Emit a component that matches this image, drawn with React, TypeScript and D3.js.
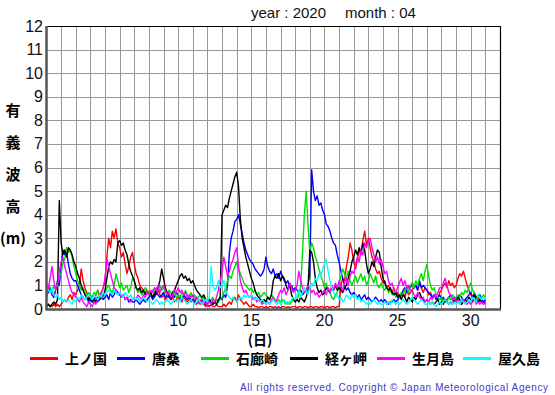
import { useRef, useEffect } from 'react';
import * as d3 from 'd3';

// 有義波高 2020年4月 (3時間ごとの値, 1日 00時 から 31日 00時まで)
const stepsPerDay = 8;

const kaminokuni = [
  0.1, 0.2, 0.1, 0.1, 0.2, 0.1, 0.2, 0.1,
  0.2, 0.3, 0.4, 0.3, 0.5, 0.6, 0.4, 0.7,
  0.6, 0.8, 1.0, 1.7, 1.2, 0.9, 0.7, 0.5,
  0.4, 0.5, 0.3, 0.6, 0.8, 0.5, 0.7, 0.9,
  1.2, 2.2, 3.0, 2.6, 3.3, 3.0, 3.4, 2.8,
  2.6, 2.2, 2.4, 1.9, 1.5, 1.8, 2.2, 2.4,
  1.9, 1.5, 1.3, 1.0, 0.9, 0.8, 0.7, 0.8,
  0.7, 0.6, 0.5, 0.7, 0.6, 0.8, 0.6, 0.5,
  0.6, 0.4, 0.5, 0.6, 0.4, 0.5, 0.3, 0.4,
  0.5, 0.4, 0.3, 0.5, 0.4, 0.3, 0.4, 0.3,
  0.4, 0.3, 0.2, 0.3, 0.2, 0.3, 0.2, 0.1,
  0.2, 0.1, 0.2, 0.1, 0.1, 0.2, 0.1, 0.1,
  0.1, 0.2, 0.1, 0.2, 0.3, 0.2, 0.4, 0.5,
  0.3, 0.6, 0.4, 0.3, 0.2, 0.3, 0.2, 0.1,
  0.1, 0.2, 0.1, 0.1, 0.05, 0.1, 0.1, 0.05,
  0.1, 0.05, 0.1, 0.1, 0.05, 0.1, 0.05, 0.1,
  0.05, 0.1, 0.1, 0.05, 0.1, 0.05, 0.1, 0.1,
  0.1, 0.05, 0.1, 0.1, 0.05, 0.1, 0.1, 0.05,
  0.1, 0.1, 0.05, 0.1, 0.1, 0.05, 0.1, 0.1,
  0.05, 0.1, 0.1, 0.05, 0.1, 0.1, 0.05, 0.1,
  0.1, 1.0, 1.3, 1.2, 1.8, 2.2, 2.8, 2.5,
  2.0, 1.7, 2.1, 2.5, 2.3, 2.9, 3.3, 2.7,
  3.0, 2.6, 2.2, 2.0, 1.7, 1.5, 1.6, 1.3,
  1.1, 1.2, 0.9, 1.0, 0.8, 0.7, 0.9, 0.6,
  0.7, 0.5, 0.6, 0.7, 0.5, 0.8, 0.6, 0.7,
  0.8, 0.9, 1.0, 0.8, 1.1, 0.9, 0.7, 0.9,
  0.8, 0.6, 0.7, 0.5, 0.6, 0.5, 0.4, 0.7,
  0.8, 1.0, 1.1, 0.9, 1.2, 1.0, 1.1, 0.9,
  1.0, 1.3, 1.5, 1.4, 1.6, 1.3, 1.0, 0.8,
  0.6, 0.5, 0.7, 0.4, 0.5, 0.3, 0.4, 0.3,
  0.3,
];

const karakuwa = [
  0.6, 0.7, 0.9, 0.6, 0.5, 0.8, 1.2, 1.0,
  1.8, 2.5, 2.3, 2.4, 1.9, 1.5, 1.3, 1.2,
  1.2, 1.0, 0.8, 0.6, 0.5, 0.4, 0.5, 0.3,
  0.4, 0.3, 0.4, 0.5, 0.3, 0.4, 0.5, 0.4,
  0.5, 0.6, 0.4, 0.7, 0.5, 0.6, 0.8, 0.7,
  0.6, 0.5, 0.6, 0.4, 0.5, 0.3, 0.4, 0.3,
  0.3, 0.4, 0.3, 0.2, 0.3, 0.4, 0.3, 0.4,
  0.5, 0.6, 0.4, 0.5, 0.7, 0.6, 0.5, 0.6,
  0.7, 0.5, 0.6, 0.5, 0.4, 0.6, 0.5, 0.7,
  0.6, 0.5, 0.4, 0.6, 0.5, 0.4, 0.5, 0.4,
  0.4, 0.3, 0.5, 0.4, 0.3, 0.4, 0.3, 0.2,
  0.3, 0.4, 0.3, 0.2, 0.3, 0.4, 0.3, 0.5,
  0.4, 0.6, 0.5, 1.0, 2.4, 3.0, 3.3, 3.7,
  3.8, 4.0, 3.6, 3.2, 2.8, 2.5, 2.3, 2.1,
  2.0, 1.9, 1.7, 1.6, 1.5, 1.4, 1.5, 1.7,
  2.2, 1.8, 1.6, 1.5, 1.7, 1.4, 1.5, 1.3,
  1.6, 1.4, 1.2, 1.1, 1.2, 0.9, 1.0, 0.8,
  0.9, 0.8, 0.7, 0.8, 0.6, 0.7, 0.8, 1.0,
  1.5, 5.9, 5.0, 4.6, 4.8, 4.4, 4.5, 4.2,
  4.0, 3.6, 3.5, 3.3, 3.0, 2.8, 2.7, 2.3,
  2.0, 1.6, 1.3, 1.0, 0.8, 0.9, 0.7, 0.6,
  0.7, 0.6, 0.5, 0.6, 0.4, 0.5, 0.6, 0.4,
  0.5, 0.4, 0.3, 0.4, 0.5, 0.4, 0.3, 0.4,
  0.3, 0.4, 0.3, 0.2, 0.3, 0.3, 0.4, 0.3,
  0.4, 0.5, 0.6, 0.8, 0.9, 0.7, 1.0, 0.9,
  1.1, 0.9, 1.0, 0.8, 1.2, 0.9, 1.0, 0.9,
  0.8, 0.7, 0.6, 0.5, 0.6, 0.4, 0.5, 0.6,
  0.4, 0.5, 0.3, 0.4, 0.5, 0.6, 0.4, 0.3,
  0.5, 0.4, 0.6, 0.5, 0.3, 0.4, 0.5, 0.6,
  0.7, 0.5, 0.6, 0.4, 0.5, 0.6, 0.4, 0.3,
  0.4,
];

const irouzaki = [
  0.8, 1.0, 0.9, 0.7, 1.0, 0.8, 1.1, 1.4,
  1.5, 2.0, 2.1, 2.6, 2.4, 2.5, 2.2, 1.8,
  1.5, 1.2, 1.0, 0.8, 0.9, 0.7, 0.6, 0.7,
  0.6, 0.5, 0.7, 0.6, 0.8, 0.6, 0.7, 0.5,
  0.7, 0.9, 1.0, 0.8, 0.7, 1.0, 1.5, 1.2,
  0.9, 1.1, 0.8, 0.9, 1.0, 0.7, 0.9, 1.3,
  1.2, 0.9, 0.7, 0.8, 0.6, 0.7, 0.9, 0.8,
  0.7, 0.6, 0.8, 0.7, 0.9, 0.8, 1.0, 0.8,
  0.9, 0.7, 0.6, 0.8, 0.7, 0.6, 0.7, 0.5,
  0.6, 0.5, 0.7, 0.6, 0.8, 0.6, 0.5, 0.7,
  0.5, 0.6, 0.4, 0.5, 0.6, 0.4, 0.5, 0.3,
  0.4, 0.3, 0.4, 0.5, 0.3, 0.4, 0.3, 0.4,
  0.5, 0.7, 0.9, 1.2, 1.4, 1.3, 1.6, 1.8,
  2.0, 1.7, 1.5, 1.3, 1.1, 1.0, 0.9, 0.8,
  0.9, 0.7, 0.8, 0.6, 0.7, 0.5, 0.6, 0.7,
  0.6, 0.5, 0.4, 0.6, 0.5, 0.4, 0.3, 0.4,
  0.3, 0.4, 0.3, 0.2, 0.3, 0.2, 0.3, 0.4,
  0.3, 0.4, 0.6, 1.0, 2.4, 4.0, 5.0, 3.6,
  2.4, 2.8, 2.6, 2.2, 2.0, 1.7, 1.4, 1.2,
  0.9, 1.1, 0.8, 0.7, 0.5, 0.4, 0.6, 0.7,
  1.0, 1.4, 1.7, 1.5, 1.3, 1.6, 1.2, 1.0,
  1.2, 1.4, 1.1, 1.3, 1.5, 1.2, 1.4, 1.0,
  1.2, 1.5, 1.3, 1.1, 1.4, 1.0, 0.9, 1.1,
  0.9, 0.8, 1.0, 0.7, 0.8, 0.6, 0.7, 0.5,
  0.6, 0.5, 0.7, 0.6, 0.8, 0.9, 0.7, 1.0,
  1.1, 0.9, 1.2, 1.0, 1.3, 1.5, 1.2, 1.6,
  1.9, 1.4, 1.0, 0.8, 0.9, 0.6, 0.5, 0.4,
  0.5, 0.3, 0.4, 0.3, 0.5, 0.4, 0.6, 0.5,
  0.4, 0.6, 0.5, 0.7, 0.6, 0.8, 0.7, 0.9,
  1.1, 0.8, 0.7, 0.5, 0.6, 0.4, 0.5, 0.6,
  0.5,
];

const kyougamisaki = [
  0.1, 0.2, 0.1, 0.2, 0.3, 0.2, 0.4, 4.6,
  2.8, 2.3, 2.5, 2.2, 2.6, 2.5, 2.3, 2.0,
  1.8, 1.5, 1.3, 1.0, 0.8, 0.6, 0.5, 0.4,
  0.5, 0.3, 0.4, 0.3, 0.5, 0.4, 0.5, 0.6,
  0.8, 1.3, 1.8, 2.0, 1.9, 2.1, 2.0, 2.8,
  2.9, 2.7, 2.8, 2.5, 2.3, 1.9, 1.6, 1.4,
  1.2, 0.9, 0.8, 0.9, 0.7, 0.8, 0.6, 0.7,
  0.6, 0.7, 0.5, 0.6, 0.8, 0.9, 1.2, 1.7,
  1.3, 0.9, 0.7, 0.6, 0.5, 0.7, 0.8, 1.0,
  1.2, 1.4, 1.5, 1.3, 1.4, 1.2, 1.3, 1.1,
  1.2, 1.0, 0.8, 0.7, 0.6, 0.5, 0.6, 0.4,
  0.3, 0.4, 0.3, 0.2, 0.3, 0.2, 0.4, 0.5,
  4.0, 4.2, 4.4, 4.3, 4.7, 5.0, 5.3, 5.6,
  5.8, 5.2, 3.8, 3.0, 2.6, 2.2, 1.9, 1.6,
  1.3, 1.1, 0.8, 0.6, 0.5, 0.4, 0.3, 0.4,
  0.3, 0.5, 0.4, 0.6, 1.2, 1.4, 1.3, 1.5,
  1.2, 1.4, 1.3, 1.0, 0.8, 1.1, 0.6, 0.4,
  0.3, 0.4, 0.3, 0.5, 0.4, 0.3, 0.5, 0.8,
  2.5, 2.4, 2.0, 1.3, 0.9, 0.7, 0.8, 0.6,
  0.7, 0.9, 0.8, 0.7, 0.9, 0.8, 1.0, 0.8,
  0.9, 0.8, 0.7, 0.9, 1.0, 1.3, 1.6, 2.0,
  2.2, 2.5, 2.3, 2.6, 2.4, 2.8, 2.5, 1.9,
  1.5, 1.7, 2.0, 1.8, 2.2, 2.5, 2.4, 1.8,
  1.3, 1.1, 0.9, 0.8, 0.9, 0.7, 0.6, 0.7,
  0.5, 0.6, 0.4, 0.6, 0.5, 0.3, 0.5, 0.4,
  0.3, 0.5, 0.4, 0.6, 0.7, 0.5, 0.4, 0.3,
  0.4, 0.3, 0.2, 0.3, 0.2, 0.3, 0.4, 0.2,
  0.3, 0.2, 0.4, 0.3, 0.2, 0.3, 0.2, 0.4,
  0.3, 0.5, 0.4, 0.2, 0.3, 0.4, 0.3, 0.5,
  0.4, 0.3, 0.6, 0.5, 0.3, 0.4, 0.3, 0.2,
  0.3,
];

const ikitsukishima = [
  0.5, 0.9, 1.3, 1.8, 1.2, 0.8, 1.0, 1.6,
  2.0, 2.2, 1.8, 1.5, 1.2, 0.9, 0.7, 0.6,
  0.5, 0.4, 0.3, 0.5, 0.3, 0.2, 0.1, 0.3,
  0.2, 0.1, 0.3, 0.2, 0.4, 0.5, 0.7, 0.9,
  1.3, 2.1, 1.8, 1.5, 1.2, 0.9, 0.8, 0.6,
  0.7, 0.5, 0.6, 0.4, 0.5, 0.4, 0.3, 0.4,
  0.5, 0.4, 0.6, 0.5, 0.4, 0.6, 0.5, 0.7,
  0.6, 0.8, 0.7, 0.9, 0.8, 1.0, 0.7, 0.9,
  1.0, 0.8, 0.6, 0.7, 0.5, 0.6, 0.8, 0.7,
  0.9, 0.7, 0.8, 0.6, 0.7, 0.5, 0.6, 0.5,
  0.6, 0.4, 0.5, 0.3, 0.4, 0.3, 0.2, 0.3,
  0.2, 0.3, 0.2, 0.4, 0.3, 0.5, 0.8, 1.2,
  1.6, 2.2, 1.8, 1.4, 1.6, 1.9, 2.1, 2.4,
  2.6, 1.8, 1.2, 0.9, 0.7, 0.8, 0.6, 0.5,
  0.6, 0.4, 0.5, 0.3, 0.4, 0.3, 0.2, 0.3,
  0.2, 0.3, 0.2, 0.4, 0.5, 0.3, 0.4, 0.6,
  0.8, 0.7, 0.9, 0.6, 0.8, 1.1, 0.9, 0.7,
  0.8, 1.0, 1.6, 1.2, 0.9, 0.7, 0.8, 1.0,
  0.9, 0.7, 0.8, 0.6, 0.7, 0.5, 0.6, 0.7,
  0.8, 0.6, 0.9, 0.7, 1.0, 0.8, 1.1, 0.9,
  1.2, 1.0, 0.8, 1.1, 1.3, 1.0, 1.4, 1.6,
  1.5, 1.9, 2.2, 2.0, 2.5, 2.3, 2.8, 2.6,
  2.9, 3.0, 2.6, 2.3, 2.0, 2.2, 1.9, 2.1,
  1.8, 1.5, 1.6, 1.2, 1.0, 1.1, 0.8, 0.7,
  0.9, 1.1, 1.3, 1.0, 1.2, 0.9, 1.0, 0.8,
  0.8, 0.6, 0.5, 0.7, 0.5, 0.4, 0.5, 0.3,
  0.4, 0.3, 0.5, 0.4, 0.6, 0.5, 0.7, 0.9,
  0.9, 1.1, 1.3, 1.0, 0.7, 0.6, 0.4, 0.5,
  0.3, 0.4, 0.2, 0.3, 0.4, 0.3, 0.2, 0.3,
  0.2, 0.3, 0.4, 0.2, 0.3, 0.2, 0.3, 0.2,
  0.3,
];

const yakushima = [
  0.9, 0.8, 0.7, 0.9, 0.6, 0.5, 0.6, 0.4,
  0.5, 0.3, 0.4, 0.3, 0.4, 0.3, 0.2, 0.4,
  0.3, 0.5, 0.4, 0.6, 0.5, 0.4, 0.5, 0.6,
  0.5, 0.4, 0.6, 0.5, 0.4, 0.6, 0.5, 0.7,
  0.6, 0.7, 0.8, 0.7, 0.6, 0.8, 0.7, 0.6,
  0.7, 0.6, 0.5, 0.7, 0.6, 0.5, 0.6, 0.4,
  0.5, 0.4, 0.5, 0.3, 0.4, 0.5, 0.4, 0.3,
  0.4, 0.3, 0.2, 0.3, 0.4, 0.3, 0.2, 0.3,
  0.2, 0.3, 0.4, 0.3, 0.2, 0.3, 0.4, 0.3,
  0.4, 0.3, 0.5, 0.4, 0.3, 0.2, 0.3, 0.4,
  0.3, 0.2, 0.3, 0.4, 0.3, 0.2, 0.3, 0.4,
  0.3, 0.5, 1.8, 1.0, 0.8, 0.9, 1.2, 0.9,
  1.0, 1.2, 0.8, 0.6, 0.5, 0.4, 0.5, 0.4,
  0.3, 0.4, 0.5, 0.4, 0.6, 0.5, 0.6, 0.5,
  0.6, 0.5, 0.4, 0.5, 0.4, 0.3, 0.4, 0.3,
  0.2, 0.3, 0.2, 0.3, 0.4, 0.3, 0.2, 0.3,
  0.2, 0.3, 0.4, 0.3, 0.2, 0.3, 0.4, 0.5,
  0.4, 0.6, 0.8, 0.5, 0.7, 0.9, 0.8, 0.6,
  0.9, 1.1, 1.0, 1.3, 1.2, 1.5, 1.4, 1.7,
  1.9, 2.1, 1.6, 1.2, 0.9, 0.7, 0.5, 0.6,
  0.4, 0.5, 0.3, 0.4, 0.6, 0.5, 0.4, 0.6,
  0.5, 0.6, 0.4, 0.5, 0.3, 0.4, 0.3, 0.2,
  0.3, 0.2, 0.3, 0.4, 0.3, 0.2, 0.3, 0.2,
  0.2, 0.3, 0.2, 0.3, 0.2, 0.4, 0.3, 0.2,
  0.3, 0.2, 0.3, 0.4, 0.3, 0.2, 0.3, 0.4,
  0.5, 0.4, 0.3, 0.2, 0.3, 0.4, 0.3, 0.2,
  0.2, 0.3, 0.2, 0.3, 0.2, 0.1, 0.2, 0.3,
  0.2, 0.3, 0.4, 0.3, 0.2, 0.3, 0.2, 0.3,
  0.2, 0.3, 0.2, 0.4, 0.3, 0.2, 0.3, 0.4,
  0.3, 0.5, 0.4, 0.3, 0.6, 0.5, 0.4, 0.5,
  0.4,
];

const stationNames = ['上ノ国', '唐桑', '石廊崎', '経ヶ岬', '生月島', '屋久島'];
const stationColors = ['#ff0000', '#0000ff', '#00dd00', '#000000', '#ff00ff', '#00ffff'];
const stationValues = [kaminokuni, karakuwa, irouzaki, kyougamisaki, ikitsukishima, yakushima];

const yTicks = [0, 1, 2, 3, 4, 5, 6, 7, 8, 9, 10, 11, 12];
const xTickLabels = [5, 10, 15, 20, 25, 30];
const yLabelChars = ['有', '義', '波', '高', '(m)'];

const W = 555;
const H = 395;
const plot = { left: 46.5, right: 500, top: 26, bottom: 309 };
const sansFont = '"Liberation Sans", Arial, sans-serif';
const jpFont = '"Noto Sans CJK JP", sans-serif';

const App = () => {
  const svgRef = useRef(null);

  useEffect(() => {
    const svg = d3.select(svgRef.current);
    svg.selectAll('*').remove();

    // 目盛り
    const x = d3.scaleLinear().domain([1, 32]).range([plot.left, plot.right]);
    const y = d3.scaleLinear().domain([0, 12]).range([plot.bottom, plot.top]);

    svg.append('rect').attr('width', W).attr('height', H).attr('fill', '#fff');

    // 格子
    const grid = svg.append('g');
    grid.selectAll('.vg')
      .data(d3.range(2, 32))
      .join('line')
      .attr('x1', (d) => Math.round(x(d)) + 0.5)
      .attr('x2', (d) => Math.round(x(d)) + 0.5)
      .attr('y1', plot.top)
      .attr('y2', plot.bottom)
      .attr('stroke', '#999')
      .attr('stroke-width', 1);
    grid.selectAll('.hg')
      .data(yTicks.slice(1, -1))
      .join('line')
      .attr('x1', plot.left)
      .attr('x2', plot.right)
      .attr('y1', (d) => Math.round(y(d)) + 0.5)
      .attr('y2', (d) => Math.round(y(d)) + 0.5)
      .attr('stroke', '#999')
      .attr('stroke-width', 1);

    // 波高の線
    const line = d3.line()
      .x((d, i) => x(1 + i / stepsPerDay))
      .y((d) => y(d));

    stationValues.forEach((vals, k) => {
      svg.append('path')
        .datum(vals)
        .attr('d', line)
        .attr('fill', 'none')
        .attr('stroke', stationColors[k])
        .attr('stroke-width', 1.4)
        .attr('stroke-linejoin', 'round');
    });

    // 枠
    svg.append('line')
      .attr('x1', plot.left).attr('x2', plot.right + 0.5)
      .attr('y1', plot.top + 0.5).attr('y2', plot.top + 0.5)
      .attr('stroke', '#000').attr('stroke-width', 1.2);
    svg.append('line')
      .attr('x1', plot.right + 0.5).attr('x2', plot.right + 0.5)
      .attr('y1', plot.top).attr('y2', plot.bottom)
      .attr('stroke', '#000').attr('stroke-width', 1.2);
    svg.append('line')
      .attr('x1', plot.left).attr('x2', plot.left)
      .attr('y1', plot.top).attr('y2', plot.bottom + 1)
      .attr('stroke', '#555').attr('stroke-width', 2.5);
    svg.append('line')
      .attr('x1', plot.left - 1).attr('x2', plot.right + 1)
      .attr('y1', plot.bottom + 0.5).attr('y2', plot.bottom + 0.5)
      .attr('stroke', '#555').attr('stroke-width', 2.5);

    // 縦軸ラベル
    svg.append('g')
      .selectAll('text')
      .data(yTicks)
      .join('text')
      .attr('x', 43)
      .attr('y', (d) => y(d) + 5.5)
      .attr('text-anchor', 'end')
      .style('font-family', sansFont)
      .style('font-size', '16px')
      .attr('fill', '#111')
      .text((d) => d);

    // 横軸ラベル
    svg.append('g')
      .selectAll('text')
      .data(xTickLabels)
      .join('text')
      .attr('x', (d) => x(d))
      .attr('y', 326)
      .attr('text-anchor', 'middle')
      .style('font-family', sansFont)
      .style('font-size', '16px')
      .attr('fill', '#111')
      .text((d) => d);

    svg.append('text')
      .attr('x', 260)
      .attr('y', 345)
      .attr('text-anchor', 'middle')
      .style('font-family', jpFont)
      .style('font-size', '14px')
      .style('font-weight', 'bold')
      .text('(日)');

    svg.append('g')
      .selectAll('text')
      .data(yLabelChars)
      .join('text')
      .attr('x', 13)
      .attr('y', (d, i) => 116 + i * 32)
      .attr('text-anchor', 'middle')
      .style('font-family', jpFont)
      .style('font-size', '15px')
      .style('font-weight', 'bold')
      .text((d) => d);

    // タイトル
    svg.append('text')
      .attr('x', 251).attr('y', 18)
      .style('font-family', sansFont).style('font-size', '15px')
      .attr('fill', '#111')
      .text('year : 2020');
    svg.append('text')
      .attr('x', 345).attr('y', 18)
      .style('font-family', sansFont).style('font-size', '15px')
      .attr('fill', '#111')
      .text('month : 04');

    // 凡例
    const legendLineX = [30, 117, 201, 290, 377, 463];
    const legend = svg.append('g');
    stationNames.forEach((name, k) => {
      legend.append('line')
        .attr('x1', legendLineX[k]).attr('x2', legendLineX[k] + 28)
        .attr('y1', 358.5).attr('y2', 358.5)
        .attr('stroke', stationColors[k]).attr('stroke-width', 3);
      legend.append('text')
        .attr('x', legendLineX[k] + 35).attr('y', 364)
        .style('font-family', jpFont).style('font-size', '14px')
        .style('font-weight', 'bold')
        .text(name);
    });

    svg.append('text')
      .attr('x', 240).attr('y', 391)
      .attr('textLength', 308).attr('lengthAdjust', 'spacing')
      .style('font-family', sansFont).style('font-size', '10px')
      .attr('fill', '#4040c0')
      .text('All rights reserved. Copyright © Japan Meteorological Agency');
  }, []);

  return (
    <div style={{ position: 'absolute', left: 0, top: 0, width: W, height: H, background: '#fff' }}>
      <svg ref={svgRef} width={W} height={H} style={{ display: 'block' }}></svg>
    </div>
  );
};

export default App;
